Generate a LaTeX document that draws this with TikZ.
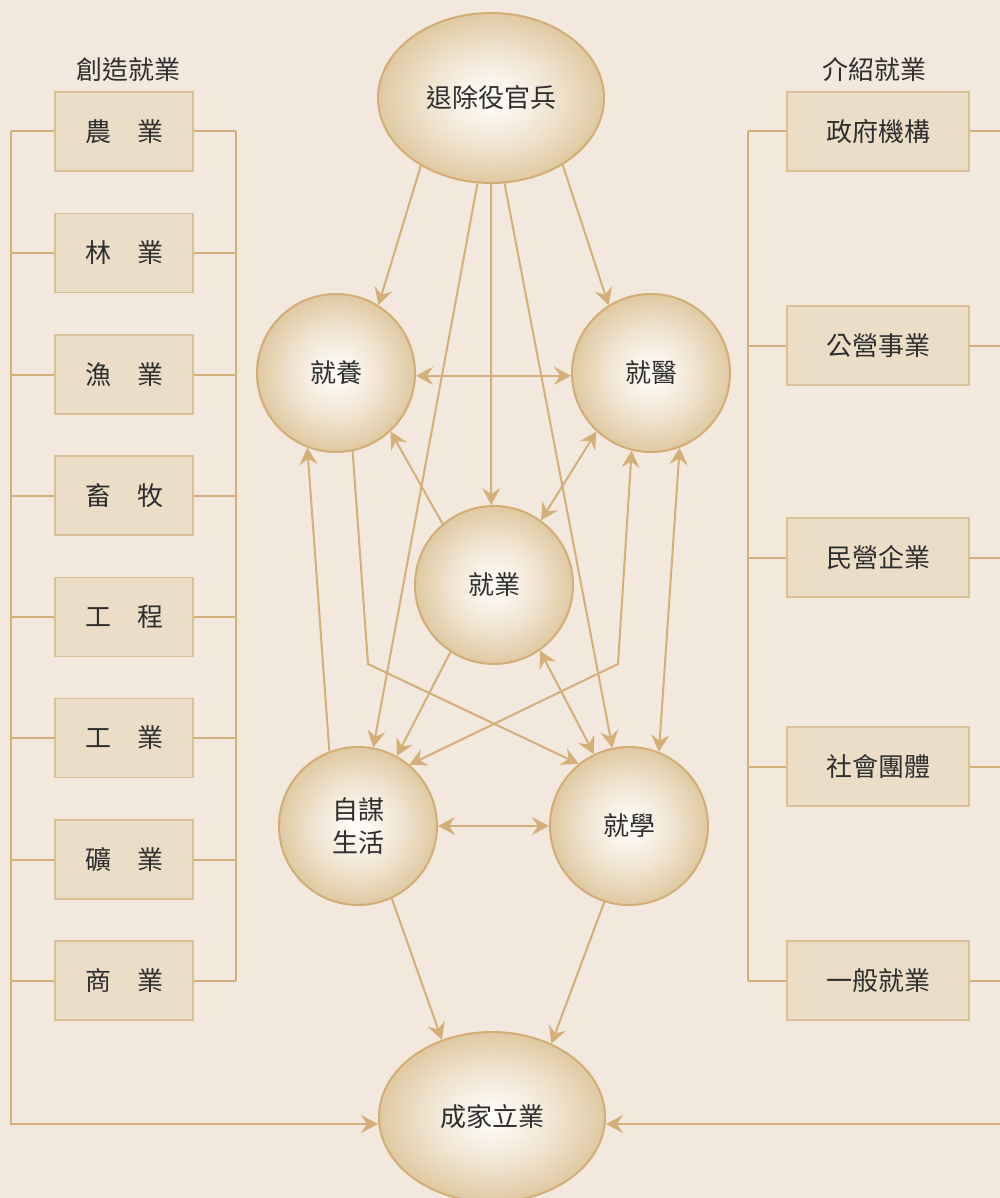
\documentclass[tikz,border=0pt]{standalone}
\usepackage{fontspec}
\setmainfont{Noto Sans CJK TC}
\usetikzlibrary{arrows.meta,shapes.geometric}
\definecolor{bgc}{HTML}{F3E8DD}
\definecolor{linec}{HTML}{D4AF77}
\definecolor{boxfill}{HTML}{ECDDC7}
\definecolor{boxline}{HTML}{DCC095}
\definecolor{ballin}{HTML}{FFFDFA}
\definecolor{ballmid}{HTML}{F0E4D0}
\definecolor{ballout}{HTML}{E0C9A2}
\definecolor{ballline}{HTML}{D2AD76}
\definecolor{textc}{HTML}{2E2E2E}
\pgfdeclareradialshading{ballsh}{\pgfpoint{0bp}{0bp}}{color(0bp)=(ballin); color(1bp)=(ballin); color(14bp)=(ballmid); color(25bp)=(ballout); color(50bp)=(ballout)}
\begin{document}
\begin{tikzpicture}[x=1pt,y=-1pt,
  >={Stealth[length=17pt,width=18pt,inset=6pt]},
  lab/.style={text=textc, font=\fontsize{26}{33}\selectfont},
  box/.style={lab, draw=boxline, fill=boxfill, line width=1.2pt, minimum height=79pt, inner sep=0pt},
  lbox/.style={box, minimum width=138pt},
  rbox/.style={box, minimum width=182pt},
  ball/.style={lab, circle, draw=ballline, line width=2pt, shading=ballsh, minimum size=158pt, inner sep=0pt, align=center},
  egg/.style={lab, ellipse, draw=ballline, line width=2pt, shading=ballsh, minimum width=226pt, minimum height=170pt, inner sep=0pt},
  conn/.style={draw=linec, line width=2pt}]
\fill[bgc] (0,0) rectangle (1000,1198);
\useasboundingbox (0,0) rectangle (1000,1198);

% headers
\node[lab] (h1) at (128,70) {創造就業};
\node[lab] (h2) at (874,70) {介紹就業};

% left boxes
\node[lbox] (b1) at (124,131.5) {農\hspace{1em}業};
\node[lbox] (b2) at (124,253) {林\hspace{1em}業};
\node[lbox] (b3) at (124,374.5) {漁\hspace{1em}業};
\node[lbox] (b4) at (124,495.5) {畜\hspace{1em}牧};
\node[lbox] (b5) at (124,617) {工\hspace{1em}程};
\node[lbox] (b6) at (124,738) {工\hspace{1em}業};
\node[lbox] (b7) at (124,859.5) {礦\hspace{1em}業};
\node[lbox] (b8) at (124,980.5) {商\hspace{1em}業};

% right boxes
\node[rbox] (r1) at (878,131.5) {政府機構};
\node[rbox] (r2) at (878,345.5) {公營事業};
\node[rbox] (r3) at (878,557.5) {民營企業};
\node[rbox] (r4) at (878,766.5) {社會團體};
\node[rbox] (r5) at (878,980.5) {一般就業};

% central nodes
\node[egg] (top) at (491,98) {退除役官兵};
\node[ball] (jy) at (336,373) {就養};
\node[ball] (ji) at (651,373) {就醫};
\node[ball] (jb) at (494,585) {就業};
\node[ball] (zm) at (358,826) {自謀\\生活};
\node[ball] (jx) at (629,826) {就學};
\node[egg] (cj) at (492,1117) {成家立業};

% connectors among central nodes
\draw[conn,->] (top.224) -- (jy.58);
\draw[conn,->] (top.317) -- (ji.122);
\draw[conn,->] (top.270) -- (jb.92);
\draw[conn,->] (top.261) -- (zm.79);
\draw[conn,->] (top.279) -- (jx.102);
\draw[conn,<->] (jy.-2) -- (ji.182);
\draw[conn,->] (jb.130) -- (jy.313);
\draw[conn,<->] (jb.54) -- (ji.227);
\draw[conn,->] (jb.237) -- (zm.61);
\draw[conn,<->] (jb.305) -- (jx.116);
\draw[conn,->] (zm.111) -- (jy.249);
\draw[conn,<->] (ji.291) -- (jx.68);
\coordinate (k1) at (368,664);
\coordinate (k2) at (618,664);
\draw[conn,->] (jy.282) -- (k1) -- (jx.129);
\draw[conn,<->] (ji.256) -- (k2) -- (zm.50);
\draw[conn,<->] (zm.east) -- (jx.west);
\draw[conn,->] (zm.295) -- (cj.123);
\draw[conn,->] (jx.252) -- (cj.51);

% left brackets
\coordinate (LT) at (11,130);
\coordinate (LB) at (11,1124);
\coordinate (LR) at (236,0);
\draw[conn,->] (b1.west -| LT) -- (LB) -- (LB -| cj.west);
\foreach \b in {b1,b2,b3,b4,b5,b6,b7,b8} {
  \draw[conn] (\b.west) -- (\b.west -| LT);
  \draw[conn] (\b.east) -- (\b.east -| LR);
}
\draw[conn] (b1.east -| LR) -- (b8.east -| LR);

% right brackets
\coordinate (RL) at (748,0);
\coordinate (RR) at (1001,0);
\coordinate (RB) at (1001,1124);
\foreach \r in {r1,r2,r3,r4,r5} {
  \draw[conn] (\r.west) -- (\r.west -| RL);
  \draw[conn] (\r.east) -- (\r.east -| RR);
}
\draw[conn] (r1.west -| RL) -- (r5.west -| RL);
\draw[conn,->] (RB) -- (RB -| cj.east);
\end{tikzpicture}
\end{document}
